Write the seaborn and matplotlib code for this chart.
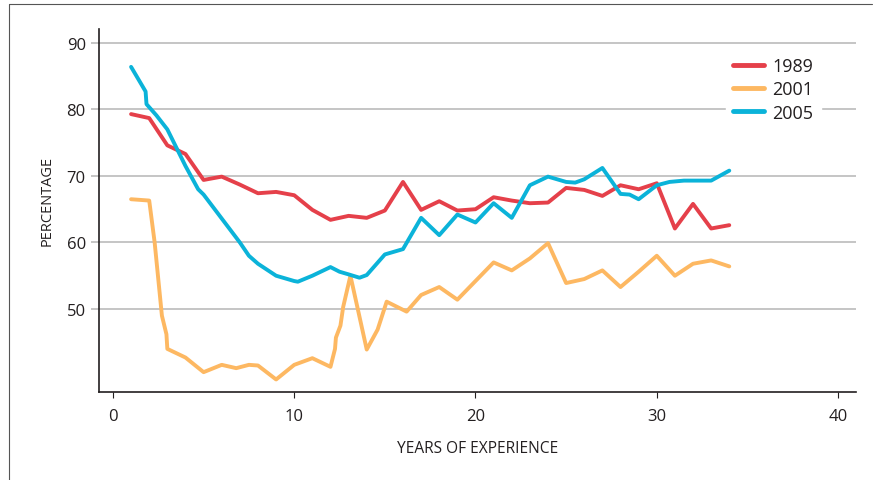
import matplotlib
matplotlib.use('Agg')
import matplotlib.pyplot as plt
from matplotlib.lines import Line2D
import seaborn as sns
import pandas as pd

# values
years_1989 = [1, 2, 3, 4, 5, 6, 7, 8, 9, 10, 11, 12, 13, 14, 15, 16, 17, 18, 19, 20,
              21, 22, 23, 24, 25, 26, 27, 28, 29, 30, 31, 32, 33, 34]
pct_1989 = [79.3, 78.7, 74.6, 73.3, 69.4, 69.9, 68.7, 67.4, 67.6, 67.1, 64.9, 63.4, 64.0, 63.7,
            64.8, 69.1, 64.9, 66.2, 64.8, 65.0, 66.8, 66.3, 65.9, 66.0, 68.2, 67.9, 67.0, 68.6,
            68.0, 68.9, 62.1, 65.8, 62.1, 62.6]

years_2001 = [1, 2, 2.3, 2.7, 2.95, 3, 4, 5, 6, 6.8, 7.5, 8, 9, 10, 11, 12, 12.25, 12.3, 12.55,
              12.7, 13.1, 14, 14.6, 15.1, 16.2, 17, 18, 19, 20, 21, 22, 23, 24, 25, 26, 27, 28,
              29, 30, 31, 32, 33, 34]
pct_2001 = [66.5, 66.3, 60.0, 49.0, 46.2, 44.0, 42.7, 40.5, 41.6, 41.1, 41.6, 41.5, 39.4, 41.6,
            42.6, 41.3, 44.0, 45.7, 47.5, 50.3, 55.0, 43.9, 46.9, 51.1, 49.6, 52.1, 53.3, 51.4,
            54.2, 57.0, 55.8, 57.6, 59.9, 53.9, 54.5, 55.8, 53.3, 55.6, 58.0, 55.0, 56.8, 57.3,
            56.4]

years_2005 = [1, 1.8, 1.85, 2.4, 3, 4, 4.7, 5, 6, 7, 7.5, 8, 9, 10, 10.2, 11, 12, 12.5, 13,
              13.6, 14, 15, 16, 17, 18, 19, 20, 21, 22, 23, 24, 25, 25.5, 26, 27, 28, 28.5, 29,
              30, 30.7, 31.5, 33, 34]
pct_2005 = [86.4, 82.7, 80.8, 79.1, 77.0, 71.5, 68.0, 67.2, 63.6, 60.0, 58.0, 56.8, 55.0, 54.2,
            54.1, 55.0, 56.3, 55.6, 55.2, 54.7, 55.1, 58.2, 59.0, 63.7, 61.1, 64.2, 63.0, 65.9,
            63.7, 68.6, 69.9, 69.1, 69.0, 69.5, 71.2, 67.3, 67.2, 66.5, 68.6, 69.1, 69.3, 69.3,
            70.8]

series = ['1989', '2001', '2005']
colors = {'1989': '#E5404A', '2001': '#FDB862', '2005': '#0BB3D9'}

df = pd.concat([
    pd.DataFrame({'year': years_1989, 'pct': pct_1989, 'series': '1989'}),
    pd.DataFrame({'year': years_2001, 'pct': pct_2001, 'series': '2001'}),
    pd.DataFrame({'year': years_2005, 'pct': pct_2005, 'series': '2005'}),
], ignore_index=True)

sns.set_style('white')
plt.rcParams['font.family'] = ['Open Sans', 'DejaVu Sans']

fig = plt.figure(figsize=(8.8, 4.81), dpi=100)
ax = fig.add_axes([0.1125, 0.183, 0.860, 0.7547])

grid_col = '#B5B5B5'
for v in [50, 60, 70, 80, 90]:
    ax.axhline(v, color=grid_col, lw=1.1, zorder=0)

sns.lineplot(data=df, x='year', y='pct', hue='series', hue_order=series, palette=colors,
             estimator=None, sort=False, lw=2.8, ax=ax)

ax.set_xlim(-0.77, 40.98)
ax.set_ylim(37.52, 92.1)
ax.set_xticks([0, 10, 20, 30, 40])
ax.set_yticks([50, 60, 70, 80, 90])

for s in ['top', 'right']:
    ax.spines[s].set_visible(False)
for s in ['left', 'bottom']:
    ax.spines[s].set_color('#231F20')
    ax.spines[s].set_linewidth(1.2)

ax.tick_params(axis='y', left=True, length=5.5, width=1.1, color=grid_col, pad=4,
               labelsize=12, labelcolor='#231F20')
ax.tick_params(axis='x', bottom=True, length=4.5, width=0.8, color='#231F20', pad=7,
               labelsize=12, labelcolor='#231F20')

ax.set_xlabel('YEARS OF EXPERIENCE', fontsize=11.2, color='#231F20')
ax.set_ylabel('PERCENTAGE', fontsize=10.5, color='#231F20')
ax.xaxis.set_label_coords(0.5, -0.1325)
ax.yaxis.set_label_coords(-0.059, 0.529)

leg = ax.legend(loc='upper left', bbox_to_anchor=(0.816, 0.968), frameon=True, fontsize=13,
                handlelength=1.75, handletextpad=0.45, labelspacing=0.3, borderpad=0.4)
leg.get_frame().set_facecolor('white')
leg.get_frame().set_edgecolor('white')
leg.get_frame().set_alpha(1)
for line in leg.get_lines():
    line.set_linewidth(3.5)
for t in leg.get_texts():
    t.set_color('#231F20')

# page frame of the original figure
fig.add_artist(Line2D([8.5 / 880, 8.5 / 880], [0, 1 - 5 / 481], color='#555555', lw=0.8))
fig.add_artist(Line2D([8.5 / 880, 872 / 880], [1 - 5 / 481, 1 - 5 / 481], color='#555555', lw=0.8))

fig.savefig('out.png', dpi=100)
